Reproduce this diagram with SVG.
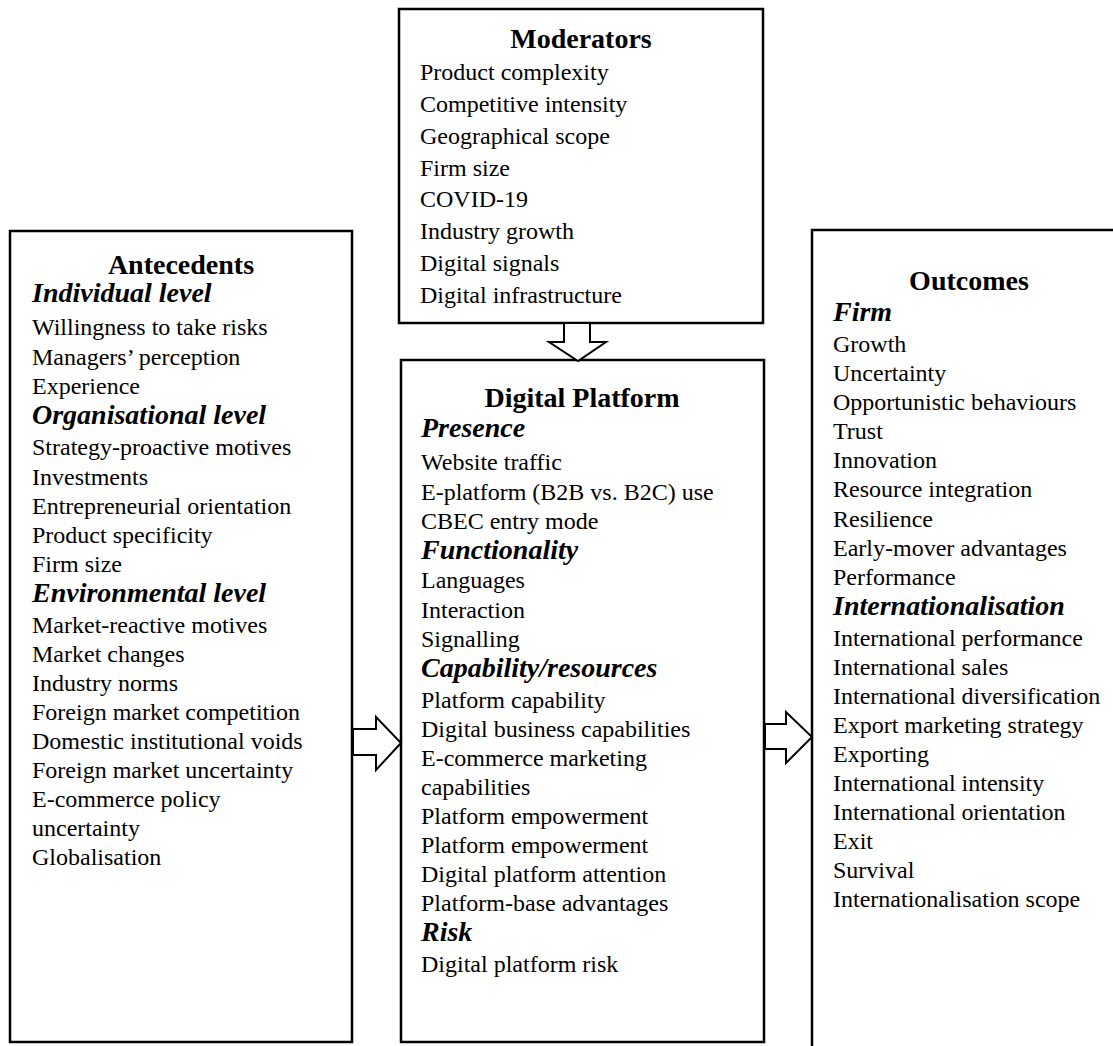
<svg xmlns="http://www.w3.org/2000/svg" width="1113" height="1046" viewBox="0 0 1113 1046">
<style>
.box{fill:#fff;stroke:#000;stroke-width:2.5}
.arr{fill:#fff;stroke:#000;stroke-width:2;stroke-linejoin:miter}
text{font-family:"Liberation Serif","Times New Roman",serif;fill:#000}
.b{font-size:24px}
.h{font-size:28px;font-weight:bold;text-anchor:middle}
.s{font-size:28px;font-weight:bold;font-style:italic}
</style>
<rect width="1113" height="1046" fill="#fff"/>
<g id="moderators">
<rect class="box" x="399" y="9" width="364" height="314"/>
<text class="h" x="581" y="48">Moderators</text>
<text class="b" x="420" y="80">Product complexity</text>
<text class="b" x="420" y="112">Competitive intensity</text>
<text class="b" x="420" y="144">Geographical scope</text>
<text class="b" x="420" y="176">Firm size</text>
<text class="b" x="420" y="207">COVID-19</text>
<text class="b" x="420" y="239">Industry growth</text>
<text class="b" x="420" y="271">Digital signals</text>
<text class="b" x="420" y="303">Digital infrastructure</text>
</g>
<g id="antecedents">
<rect class="box" x="10" y="231" width="342" height="811"/>
<text class="h" x="181" y="274">Antecedents</text>
<text class="s" x="32" y="302">Individual level</text>
<text class="b" x="32" y="335">Willingness to take risks</text>
<text class="b" x="32" y="365">Managers’ perception</text>
<text class="b" x="32" y="394">Experience</text>
<text class="s" x="32" y="424">Organisational level</text>
<text class="b" x="32" y="455">Strategy-proactive motives</text>
<text class="b" x="32" y="485">Investments</text>
<text class="b" x="32" y="514">Entrepreneurial orientation</text>
<text class="b" x="32" y="543">Product specificity</text>
<text class="b" x="32" y="572">Firm size</text>
<text class="s" x="32" y="602">Environmental level</text>
<text class="b" x="32" y="633">Market-reactive motives</text>
<text class="b" x="32" y="662">Market changes</text>
<text class="b" x="32" y="691">Industry norms</text>
<text class="b" x="32" y="720">Foreign market competition</text>
<text class="b" x="32" y="749">Domestic institutional voids</text>
<text class="b" x="32" y="778">Foreign market uncertainty</text>
<text class="b" x="32" y="807">E-commerce policy</text>
<text class="b" x="32" y="836">uncertainty</text>
<text class="b" x="32" y="865">Globalisation</text>
</g>
<g id="digital-platform">
<rect class="box" x="401" y="360" width="363" height="682"/>
<text class="h" x="582" y="407">Digital Platform</text>
<text class="s" x="421" y="437">Presence</text>
<text class="b" x="421" y="470">Website traffic</text>
<text class="b" x="421" y="500">E-platform (B2B vs. B2C) use</text>
<text class="b" x="421" y="529">CBEC entry mode</text>
<text class="s" x="421" y="559">Functionality</text>
<text class="b" x="421" y="588">Languages</text>
<text class="b" x="421" y="618">Interaction</text>
<text class="b" x="421" y="647">Signalling</text>
<text class="s" x="421" y="677">Capability/resources</text>
<text class="b" x="421" y="708">Platform capability</text>
<text class="b" x="421" y="737">Digital business capabilities</text>
<text class="b" x="421" y="766">E-commerce marketing</text>
<text class="b" x="421" y="795">capabilities</text>
<text class="b" x="421" y="824">Platform empowerment</text>
<text class="b" x="421" y="853">Platform empowerment</text>
<text class="b" x="421" y="882">Digital platform attention</text>
<text class="b" x="421" y="911">Platform-base advantages</text>
<text class="s" x="421" y="941">Risk</text>
<text class="b" x="421" y="972">Digital platform risk</text>
</g>
<g id="outcomes">
<rect class="box" x="812" y="230" width="314" height="830"/>
<text class="h" x="969" y="290">Outcomes</text>
<text class="s" x="833" y="321">Firm</text>
<text class="b" x="833" y="352">Growth</text>
<text class="b" x="833" y="381">Uncertainty</text>
<text class="b" x="833" y="410">Opportunistic behaviours</text>
<text class="b" x="833" y="439">Trust</text>
<text class="b" x="833" y="468">Innovation</text>
<text class="b" x="833" y="497">Resource integration</text>
<text class="b" x="833" y="527">Resilience</text>
<text class="b" x="833" y="556">Early-mover advantages</text>
<text class="b" x="833" y="585">Performance</text>
<text class="s" x="833" y="615">Internationalisation</text>
<text class="b" x="833" y="646">International performance</text>
<text class="b" x="833" y="675">International sales</text>
<text class="b" x="833" y="704">International diversification</text>
<text class="b" x="833" y="733">Export marketing strategy</text>
<text class="b" x="833" y="762">Exporting</text>
<text class="b" x="833" y="791">International intensity</text>
<text class="b" x="833" y="820">International orientation</text>
<text class="b" x="833" y="849">Exit</text>
<text class="b" x="833" y="878">Survival</text>
<text class="b" x="833" y="907">Internationalisation scope</text>
</g>
<g id="connectors">
<polygon class="arr" points="564,323 590,323 590,342 606,342 578,361 549,342 564,342"/>
<polygon class="arr" points="353,729 376,729 376,717 401,743 376,770 376,755 353,755"/>
<polygon class="arr" points="765,724 786,724 786,712 812,737 786,763 786,749 765,749"/>
</g>
</svg>
